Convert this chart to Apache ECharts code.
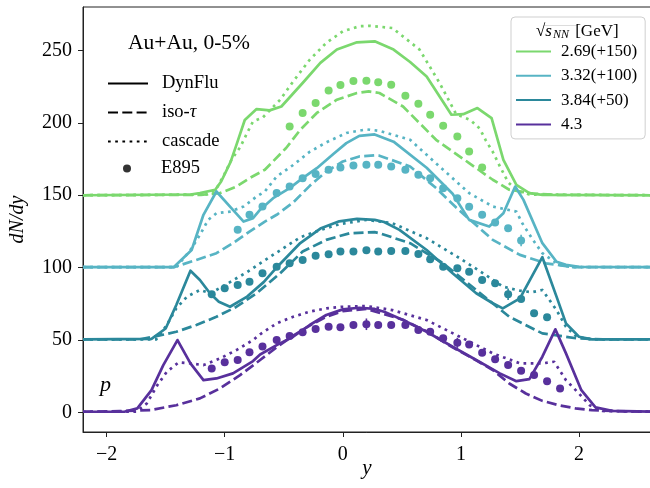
<!DOCTYPE html>
<html>
<head>
<meta charset="utf-8">
<script src="https://cdn.jsdelivr.net/npm/echarts@6.0.0/dist/echarts.min.js"></script>
<style>
  html, body { margin: 0; padding: 0; background: #fff; }
  #chart { width: 650px; height: 488px; }
</style>
</head>
<body>
<div id="chart"></div>
<script>
// energies, offsets and colours (legend order)
const energies = ['2.69(+150)', '3.32(+100)', '3.84(+50)', '4.3'];
const offsets = [150, 100, 50, 0];
const colors = ['#7bd86e', '#57b4c4', '#2b889b', '#58309c'];

// model curves, [y, dN/dy] before offset
const dynGreen = [[-2.2,0],[-1.29,0.5],[-1.21,1.5],[-1.08,3.8],[-1.03,9.5],[-0.95,23],[-0.9,35],[-0.83,52],[-0.73,59.5],[-0.62,58.6],[-0.52,61.3],[-0.34,77.5],[-0.19,91.4],[-0.05,100.6],[0.12,105.6],[0.27,106.3],[0.43,100.6],[0.57,92],[0.71,82],[0.92,55.6],[1.02,56],[1.14,60.2],[1.26,53.3],[1.36,24.5],[1.47,7.2],[1.58,1.5],[1.69,0.3],[2.61,0]];
const isoGreen = [[-2.2,0],[-1.2,0.3],[-1.04,1.5],[-0.9,6],[-0.79,11.8],[-0.66,17.6],[-0.48,32.6],[-0.36,45.2],[-0.22,56.8],[-0.05,66],[0.12,70.6],[0.22,71.7],[0.31,70.6],[0.51,61.3],[0.79,38.3],[1.07,22.2],[1.27,10.7],[1.41,3.8],[1.61,1.2],[1.8,0.3],[2.61,0]];
const casGreen = [[-2.2,0],[-1.15,0.5],[-1.08,3],[-1.0,15],[-0.94,25],[-0.87,33],[-0.81,43],[-0.76,51],[-0.68,53.5],[-0.53,66],[-0.42,78.6],[-0.28,93.6],[-0.14,105.2],[0,113.2],[0.14,116.7],[0.23,117],[0.42,115.5],[0.65,100.6],[0.82,77.5],[0.96,56],[1.08,52],[1.16,46],[1.21,38],[1.27,30],[1.33,20],[1.4,9],[1.48,3],[1.58,0.5],[2.61,0]];

const dynCyan = [[-2.2,0.4],[-1.43,0.4],[-1.28,12.2],[-1.18,36.5],[-1.07,52.6],[-0.955,42.2],[-0.84,31.8],[-0.76,34.2],[-0.7,40],[-0.59,48],[-0.45,54.9],[-0.34,61.8],[-0.22,68.7],[-0.08,78.5],[0.03,86],[0.14,91],[0.27,92],[0.43,87],[0.71,69],[0.93,51],[1.07,33],[1.24,28.4],[1.36,37.6],[1.46,56],[1.53,46.8],[1.69,16.9],[1.81,4.1],[1.89,1.9],[2.0,0.5],[2.61,0.4]];
const isoCyan = [[-2.2,0.3],[-1.43,0.3],[-1.24,5.3],[-1.07,10],[-0.93,16.9],[-0.79,24.9],[-0.66,31.8],[-0.56,36.5],[-0.42,45],[-0.28,56.5],[-0.14,66.4],[0,73.3],[0.14,76.8],[0.27,77.5],[0.31,77.3],[0.57,69.9],[0.79,55],[0.96,41.5],[1.27,19.2],[1.5,8.8],[1.72,3],[1.95,0.4],[2.61,0.3]];
const casCyan = [[-2.2,0.3],[-1.41,0.3],[-1.29,12.2],[-1.21,22.6],[-1.14,33],[-1.07,37.6],[-0.955,38.7],[-0.84,42.2],[-0.73,49.1],[-0.66,52.6],[-0.56,62.9],[-0.42,70.9],[-0.28,80],[-0.14,86.5],[0.03,93],[0.2,95.5],[0.31,94.5],[0.57,88.3],[0.85,67.6],[1.07,51.5],[1.27,42.2],[1.47,38.7],[1.52,30.7],[1.61,19.2],[1.69,10],[1.83,1.9],[1.95,0.3],[2.61,0.3]];

const dynTeal = [[-2.2,0.5],[-1.62,0.8],[-1.5,8],[-1.41,24.2],[-1.29,47.9],[-1.21,41.5],[-1.125,32.3],[-1.05,26.5],[-0.955,23],[-0.81,30],[-0.67,40],[-0.55,51],[-0.36,67],[-0.19,77],[-0.03,82],[0.12,83.7],[0.27,83],[0.35,81.5],[0.48,76.1],[0.71,62.2],[0.93,46.1],[1.13,32.3],[1.27,25.4],[1.355,21.9],[1.5,28.8],[1.69,57.2],[1.81,30],[1.89,11.5],[2.0,2.3],[2.11,0.5],[2.61,0.5]];
const isoTeal = [[-2.2,0.5],[-1.72,0.5],[-1.6,2.3],[-1.41,5.7],[-1.24,10.4],[-1.07,16.1],[-0.9,23],[-0.73,32.3],[-0.53,46.1],[-0.34,61.1],[-0.14,69.2],[0.06,73.8],[0.27,74.5],[0.31,73.8],[0.57,66.9],[0.85,53],[1.13,34.6],[1.41,16.1],[1.69,4.6],[1.98,1.2],[2.2,0.5],[2.61,0.5]];
const casTeal = [[-2.2,0.5],[-1.58,0.5],[-1.49,10.4],[-1.41,21.9],[-1.32,29.9],[-1.21,34.6],[-1.12,32.3],[-0.955,40],[-0.81,47],[-0.7,53],[-0.53,62],[-0.36,71],[-0.19,76],[-0.03,80],[0.2,83],[0.42,80.7],[0.71,70.3],[0.99,56.5],[1.21,45],[1.355,36.9],[1.5,34.1],[1.6,33],[1.69,34.6],[1.81,20.7],[1.89,9.2],[1.98,2.3],[2.1,0.5],[2.61,0.5]];

const dynPurple = [[-2.2,0.5],[-1.85,0.5],[-1.74,2.8],[-1.62,15.4],[-1.52,32.7],[-1.4,50],[-1.29,33.9],[-1.18,22.3],[-1.07,23.5],[-0.93,27],[-0.76,35.5],[-0.7,40],[-0.56,46.5],[-0.42,52.3],[-0.28,60.4],[-0.14,67.3],[0,71.2],[0.14,72.3],[0.27,71.5],[0.35,69.5],[0.51,63.8],[0.71,55.7],[0.93,45.4],[1.13,36.2],[1.33,27],[1.47,21.6],[1.58,23],[1.69,38.5],[1.8,57.4],[1.89,40.8],[2.02,15.4],[2.14,3.5],[2.28,1.1],[2.61,0.5]];
const isoPurple = [[-2.2,0.5],[-1.89,0.9],[-1.63,1.6],[-1.41,5],[-1.21,9.7],[-1.04,16.6],[-0.87,25.8],[-0.7,36.2],[-0.56,45],[-0.42,53],[-0.28,60],[-0.14,66],[0,70],[0.2,71.5],[0.51,64],[0.71,56],[0.93,45],[1.13,36],[1.27,29.3],[1.41,20],[1.55,13.1],[1.69,8],[1.83,5],[1.97,2.8],[2.11,1.6],[2.4,0.7],[2.61,0.5]];
const casPurple = [[-2.2,0.5],[-1.75,0.5],[-1.66,6.2],[-1.57,18.9],[-1.49,28.1],[-1.39,34.6],[-1.29,33.9],[-1.18,32.7],[-1.04,37.3],[-0.9,43.1],[-0.76,50],[-0.7,54],[-0.56,61.5],[-0.42,66.1],[-0.28,69.6],[-0.14,71.9],[0,73],[0.2,73.5],[0.42,70.7],[0.71,63.8],[0.99,52.3],[1.27,40.8],[1.5,33.9],[1.69,33.9],[1.79,35],[1.89,22.3],[2.0,13.1],[2.09,5],[2.2,1],[2.61,0.5]];

// E895 data points
const e895Green = [[-0.45,47.5],[-0.34,56.8],[-0.23,63.7],[-0.12,72.4],[-0.02,76.1],[0.09,78.9],[0.2,79.1],[0.3,78],[0.41,76.3],[0.53,68.7],[0.64,63.2],[0.74,55.6],[0.85,48],[0.97,40.6],[1.07,30.2],[1.18,19.2]];
const e895Cyan = [[-0.89,26.1],[-0.79,36.5],[-0.68,42.2],[-0.56,51.5],[-0.45,56],[-0.34,61.8],[-0.23,64.6],[-0.12,67.6],[-0.02,69.2],[0.09,70.6],[0.2,71],[0.3,71],[0.41,69.9],[0.53,67.6],[0.64,64.1],[0.74,61.8],[0.85,54.9],[0.97,48],[1.07,42],[1.18,36.5],[1.29,31.1],[1.4,27.2],[1.51,18.7]];
const e895Teal = [[-1.11,31.6],[-1.0,35.8],[-0.89,38],[-0.79,40.3],[-0.68,46.1],[-0.56,50.7],[-0.45,53],[-0.34,55.3],[-0.23,58.3],[-0.12,59.3],[-0.02,61.1],[0.09,61.1],[0.2,62],[0.3,61.1],[0.41,61.5],[0.53,61.5],[0.64,59.5],[0.74,55.8],[0.85,50.7],[0.97,49.6],[1.07,47.2],[1.18,41.5],[1.29,39.2],[1.4,31.6],[1.51,28.4],[1.62,18.5],[1.73,15.7]];
const e895Purple = [[-1.11,30.4],[-1.0,34.6],[-0.89,36.2],[-0.79,41.5],[-0.68,45.6],[-0.56,50],[-0.45,52.8],[-0.34,55.3],[-0.23,57.6],[-0.12,59.2],[-0.02,58.8],[0.09,60.4],[0.2,60.9],[0.3,60.4],[0.41,60.4],[0.53,60.4],[0.64,56.9],[0.74,55.7],[0.85,51.2],[0.97,48.1],[1.07,47],[1.18,41.2],[1.29,36.7],[1.4,32.7],[1.51,28.8],[1.62,25.8],[1.73,21.6],[1.84,16.6]];

// error bars [y, low, high]
const errGreen = [];
const errCyan = [[1.51,14.7,22.7]];
const errTeal = [[1.4,27.6,35.6]];
const errPurple = [[0.2,56.9,64.9],[0.97,44.6,51.6]];

const xTicks = [-2, -1, 0, 1, 2];
const yTicks = [0, 50, 100, 150, 200, 250];

const SERIF = "'Liberation Serif', 'DejaVu Serif', serif";
const LW = 2.7;
const DASH = [10, 4.3];
const DOT = [2.7, 4.5];

const groups = [
  { dyn: dynGreen, iso: isoGreen, cas: casGreen, exp: e895Green, err: errGreen },
  { dyn: dynCyan, iso: isoCyan, cas: casCyan, exp: e895Cyan, err: errCyan },
  { dyn: dynTeal, iso: isoTeal, cas: casTeal, exp: e895Teal, err: errTeal },
  { dyn: dynPurple, iso: isoPurple, cas: casPurple, exp: e895Purple, err: errPurple }
];

const shift = (pts, off) => pts.map(p => [p[0], p[1] + off]);

let series = [];
groups.forEach((g, i) => {
  const name = energies[i], off = offsets[i], c = colors[i];
  const line = (pts, type) => ({
    name: name, type: 'line', data: shift(pts, off), color: c,
    showSymbol: false, symbol: 'none', silent: true,
    lineStyle: { width: LW, type: type, cap: 'butt', join: 'round' }
  });
  series.push(line(g.dyn, 'solid'));
  series.push(line(g.iso, DASH));
  series.push(line(g.cas, DOT));
  series.push({
    name: name, type: 'scatter', data: shift(g.exp, off), color: c,
    symbol: 'circle', symbolSize: 8, silent: true, itemStyle: { opacity: 1 }
  });
  if (g.err.length) {
    series.push({
      name: name, type: 'custom', silent: true,
      data: g.err.map(e => [e[0], e[1] + off, e[2] + off]),
      renderItem: (params, api) => {
        const lo = api.coord([api.value(0), api.value(1)]);
        const hi = api.coord([api.value(0), api.value(2)]);
        return { type: 'line', shape: { x1: lo[0], y1: lo[1], x2: hi[0], y2: hi[1] },
                 style: { stroke: c, lineWidth: 1.6 } };
      }
    });
  }
});

// legend-only series for the model styles
series.push({ name: 'DynFlu', type: 'line', data: [], color: '#000', symbol: 'none', lineStyle: { width: LW, type: 'solid' } });
series.push({ name: 'iso-τ', type: 'line', data: [], color: '#000', symbol: 'none', lineStyle: { width: LW, type: DASH } });
series.push({ name: 'cascade', type: 'line', data: [], color: '#000', symbol: 'none', lineStyle: { width: LW, type: DOT } });
series.push({ name: 'E895', type: 'scatter', data: [], color: '#000', symbol: 'circle' });

const chart = echarts.init(document.getElementById('chart'), null, { renderer: 'canvas' });
chart.setOption({
  animation: false,
  backgroundColor: '#fff',
  grid: { left: 83, right: -1, top: 7, bottom: 56, show: true, borderColor: '#222', borderWidth: 1,
          outerBoundsMode: 'none', containLabel: false },
  title: [
    { text: 'Au+Au, 0-5%', left: 128, top: 32, padding: 0,
      textStyle: { fontFamily: SERIF, fontSize: 21.5, fontWeight: 'normal', color: '#000' } },
    { text: '{r|√}{s|s}{n|NN} [GeV]', left: 536, top: 23, padding: 0,
      textStyle: { fontFamily: SERIF, fontSize: 17, fontWeight: 'normal', color: '#000',
        rich: {
          r: { fontFamily: SERIF, fontSize: 17, color: '#000' },
          s: { fontFamily: SERIF, fontSize: 17, fontStyle: 'italic', color: '#000' },
          n: { fontFamily: SERIF, fontSize: 12, fontStyle: 'italic', color: '#000', verticalAlign: 'bottom', padding: [6, 2, 0, 1] }
        } } },
    { text: 'p', left: 100, top: 374, padding: 0,
      textStyle: { fontFamily: SERIF, fontSize: 22, fontStyle: 'italic', fontWeight: 'normal', color: '#000' } }
  ],
  graphic: [
    { type: 'line', shape: { x1: 544, y1: 25.5, x2: 577, y2: 25.5 }, style: { stroke: '#000', lineWidth: 0.9 }, silent: true }
  ],
  legend: [
    { // model styles
      data: ['DynFlu', 'iso-τ', 'cascade'], orient: 'vertical', left: 107, top: 74, padding: 0,
      itemWidth: 40, itemHeight: 10, itemGap: 10, selectedMode: false,
      itemStyle: { opacity: 0 },
      formatter: n => n === 'iso-τ' ? 'iso-{i|τ}' : n,
      textStyle: { fontFamily: SERIF, fontSize: 18.5, color: '#000', padding: [0, 0, 0, 9],
        rich: { i: { fontFamily: SERIF, fontSize: 18.5, fontStyle: 'italic', color: '#000' } } }
    },
    { // data marker
      data: ['E895'], orient: 'vertical', left: 123, top: 159, padding: 0,
      itemWidth: 8, itemHeight: 8, selectedMode: false,
      textStyle: { fontFamily: SERIF, fontSize: 18.5, color: '#000', padding: [0, 0, 0, 25] }
    },
    { // energies
      data: energies, orient: 'vertical', left: 511, top: 17,
      padding: [26, 8, 6, 4], itemWidth: 35, itemHeight: 10, itemGap: 7.3, selectedMode: false,
      backgroundColor: 'rgba(255,255,255,0.85)', borderColor: '#cfcfcf', borderWidth: 1, borderRadius: 4,
      itemStyle: { opacity: 0 },
      textStyle: { fontFamily: SERIF, fontSize: 17, color: '#000', padding: [0, 0, 0, 5] }
    }
  ],
  xAxis: {
    type: 'value', min: -2.2, max: 2.61,
    name: 'y', nameLocation: 'middle', nameGap: 26, nameMoveOverlap: false,
    nameTextStyle: { fontFamily: SERIF, fontSize: 21, fontStyle: 'italic', color: '#000' },
    axisLine: { show: true, onZero: false, lineStyle: { color: '#222', width: 1 } },
    axisTick: { show: true, inside: false, length: 5, customValues: xTicks, lineStyle: { color: '#222' } },
    axisLabel: { customValues: xTicks, margin: 13, fontFamily: SERIF, fontSize: 20, color: '#000',
      formatter: v => String(v).replace('-', '\u2212') },
    splitLine: { show: false }
  },
  yAxis: {
    type: 'value', min: -13.5, max: 280,
    name: 'dN/dy', nameLocation: 'middle', nameGap: 55, nameMoveOverlap: false,
    nameTextStyle: { fontFamily: SERIF, fontSize: 20, fontStyle: 'italic', color: '#000' },
    axisLine: { show: true, onZero: false, lineStyle: { color: '#222', width: 1 } },
    axisTick: { show: true, inside: false, length: 5, customValues: yTicks, lineStyle: { color: '#222' } },
    axisLabel: { customValues: yTicks, margin: 11, fontFamily: SERIF, fontSize: 20, color: '#000' },
    splitLine: { show: false }
  },
  series: series
});
</script>
</body>
</html>
